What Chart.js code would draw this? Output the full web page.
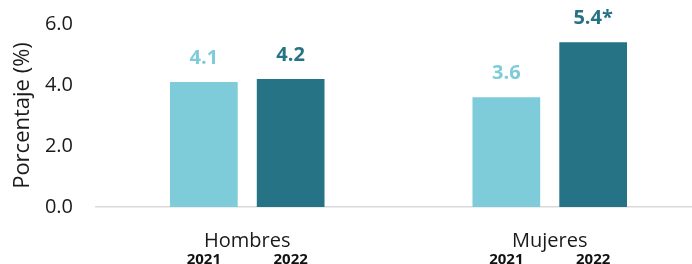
<!DOCTYPE html>
<html>
<head>
<meta charset="utf-8">
<script src="https://cdn.jsdelivr.net/npm/chart.js@4/dist/chart.umd.min.js"></script>
<style>
html,body{margin:0;padding:0;background:#fff;overflow:hidden;width:692px;height:264px;}
#wrap{width:704px;height:264px;}
</style>
</head>
<body>
<div id="wrap"><canvas id="c" width="704" height="264"></canvas></div>
<script>
const categories = ['Hombres', 'Mujeres'];
const years = ['2021', '2022'];
const values2021 = [4.1, 3.6];
const values2022 = [4.2, 5.4];
const valueLabels2021 = ['4.1', '3.6'];
const valueLabels2022 = ['4.2', '5.4*'];
const yTicks = [0, 2, 4, 6];

const LIGHT = '#7ecbda';
const DARK = '#267385';
const FONT = "'Open Sans', sans-serif";

const labelPlugin = {
  id: 'labels',
  afterDatasetsDraw(chart) {
    const ctx = chart.ctx;
    const sets = [valueLabels2021, valueLabels2022];
    chart.data.datasets.forEach((ds, di) => {
      const meta = chart.getDatasetMeta(di);
      meta.data.forEach((bar, i) => {
        ctx.save();
        ctx.font = "bold 20px " + FONT;
        ctx.fillStyle = ds.backgroundColor;
        ctx.textAlign = 'center';
        ctx.textBaseline = 'alphabetic';
        ctx.fillText(sets[di][i], bar.x, bar.y - 18);
        ctx.font = "bold 15px " + FONT;
        ctx.fillStyle = '#111';
        ctx.fillText(years[di], bar.x, chart.chartArea.bottom + 57);
        ctx.restore();
      });
    });
  }
};

new Chart(document.getElementById('c'), {
  type: 'bar',
  data: {
    labels: categories,
    datasets: [
      { label: years[0], data: values2021, backgroundColor: LIGHT, barPercentage: 0.78, categoryPercentage: 0.574 },
      { label: years[1], data: values2022, backgroundColor: DARK, barPercentage: 0.78, categoryPercentage: 0.574 }
    ]
  },
  options: {
    responsive: false,
    animation: false,
    devicePixelRatio: 1,
    layout: { padding: { top: 24, right: 3, left: 0, bottom: 0 } },
    plugins: { legend: { display: false }, tooltip: { enabled: false } },
    scales: {
      x: {
        grid: { display: false, drawTicks: false },
        border: { display: true, color: '#d9d9d9', width: 1.5 },
        ticks: { color: '#1a1a1a', font: { family: FONT, size: 20 }, padding: 22 },
        afterFit(scale) { scale.height = 57; scale.paddingLeft = 0; scale.paddingRight = 0; }
      },
      y: {
        min: 0, max: 6,
        afterBuildTicks(scale) { scale.ticks = yTicks.map(v => ({ value: v })); },
        grid: { display: false, drawTicks: false },
        border: { display: false },
        ticks: { color: '#1a1a1a', font: { family: FONT, size: 20 }, padding: 23,
                 callback: v => v.toFixed(1) },
        title: { display: true, text: 'Porcentaje (%)', color: '#1a1a1a',
                 font: { family: FONT, size: 22, lineHeight: 1.2 }, padding: { top: 10, bottom: 0 } },
        afterFit(scale) { scale.width = 96; scale.paddingTop = 0; scale.paddingBottom = 0; }
      }
    }
  },
  plugins: [labelPlugin]
});
</script>
</body>
</html>
